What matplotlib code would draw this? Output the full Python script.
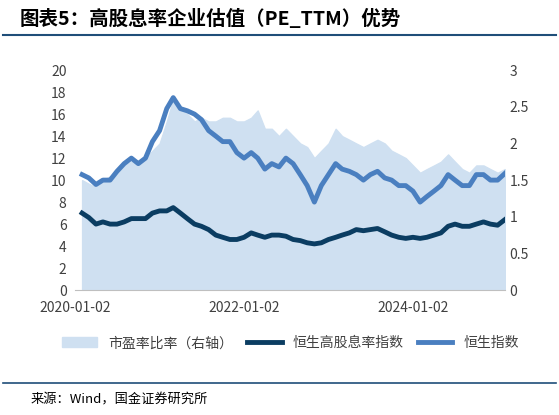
import matplotlib
matplotlib.use("Agg")
import matplotlib.pyplot as plt
import numpy as np
import pandas as pd

plt.rcParams['font.family'] = ['Noto Sans CJK SC', 'DejaVu Sans']

dates = pd.date_range("2020-01-02", periods=61, freq="MS") + pd.Timedelta(days=1)
hsi = [10.5, 10.2, 9.6, 10.0, 10.0, 10.8, 11.5, 12.0, 11.5, 12.0, 13.5, 14.5,
       16.5, 17.5, 16.5, 16.3, 16.0, 15.5, 14.5, 14.0, 13.5, 13.5, 12.5, 12.0,
       12.5, 12.0, 11.0, 11.5, 11.2, 12.0, 11.5, 10.5, 9.5, 8.0, 9.5, 10.5,
       11.5, 11.0, 10.8, 10.5, 10.0, 10.5, 10.8, 10.2, 10.0, 9.5, 9.5, 9.0,
       8.0, 8.5, 9.0, 9.5, 10.5, 10.0, 9.5, 9.5, 10.5, 10.5, 10.0, 10.0, 10.6]
hsi_hd = [7.0, 6.6, 6.0, 6.2, 6.0, 6.0, 6.2, 6.5, 6.5, 6.5, 7.0, 7.2,
          7.2, 7.5, 7.0, 6.5, 6.0, 5.8, 5.5, 5.0, 4.8, 4.6, 4.6, 4.8,
          5.2, 5.0, 4.8, 5.0, 5.0, 4.9, 4.6, 4.5, 4.3, 4.2, 4.3, 4.6,
          4.8, 5.0, 5.2, 5.5, 5.4, 5.5, 5.6, 5.3, 5.0, 4.8, 4.7, 4.8,
          4.7, 4.8, 5.0, 5.2, 5.8, 6.0, 5.8, 5.8, 6.0, 6.2, 6.0, 5.9, 6.4]
pe = [1.5, 1.45, 1.4, 1.5, 1.55, 1.6, 1.7, 1.75, 1.7, 1.8, 1.9, 2.0,
      2.3, 2.6, 2.5, 2.4, 2.3, 2.35, 2.3, 2.3, 2.35, 2.35, 2.3, 2.3,
      2.35, 2.45, 2.2, 2.2, 2.1, 2.2, 2.1, 2.0, 1.95, 1.8, 1.9, 2.0,
      2.2, 2.1, 2.05, 2.0, 1.95, 2.0, 2.05, 2.0, 1.9, 1.85, 1.8, 1.7,
      1.6, 1.65, 1.7, 1.75, 1.85, 1.75, 1.65, 1.6, 1.7, 1.7, 1.65, 1.6, 1.65]

fig = plt.figure(figsize=(5.59, 4.15), dpi=100)
ax = fig.add_axes([0.134, 0.301, 0.769, 0.53])
ax2 = ax.twinx()

ax2.fill_between(dates, pe, color="#cfe0f1", label="市盈率比率（右轴）", zorder=1)
ax.set_zorder(ax2.get_zorder() + 1)
ax.patch.set_visible(False)
ax.plot(dates, hsi_hd, color="#0b3d62", lw=3.5, label="恒生高股息率指数")
ax.plot(dates, hsi, color="#4a7fc0", lw=3.5, label="恒生指数")

ax.set_ylim(0, 20)
ax.set_yticks(range(0, 21, 2))
ax2.set_ylim(0, 3)
ax2.set_yticks(np.arange(0, 3.01, 0.5))
ax2.set_yticklabels(["0", "0.5", "1", "1.5", "2", "2.5", "3"])
ax.set_xlim(dates[0], dates[-1])
ticks = pd.to_datetime(["2020-01-02", "2022-01-02", "2024-01-02"])
ax.set_xticks(ticks)
ax.set_xticklabels([t.strftime("%Y-%m-%d") for t in ticks])
for a in (ax, ax2):
    for s in a.spines.values():
        s.set_visible(False)
    a.tick_params(length=0, labelsize=10, colors="#404040")
ax.tick_params(axis="x", pad=8)
ax.tick_params(axis="y", pad=6)
ax.spines["bottom"].set_visible(True)
ax.spines["bottom"].set_color("#bfbfbf")

h1, l1 = ax2.get_legend_handles_labels()
h2, l2 = ax.get_legend_handles_labels()
fig.legend(h1 + h2, l1 + l2, loc="center", bbox_to_anchor=(0.52, 0.173), ncol=3,
           frameon=False, fontsize=10, handlelength=2.5, columnspacing=1.0,
           labelcolor="#404040")

fig.text(0.035, 0.955, "图表5：高股息率企业估值（PE_TTM）优势", fontsize=14,
         fontweight="bold", style="italic", va="center")
fig.add_artist(plt.Line2D([0.005, 0.995], [0.915, 0.915], color="#1f4e79", lw=1.5))
fig.add_artist(plt.Line2D([0.005, 0.995], [0.077, 0.077], color="#1f4e79", lw=1.2))
fig.text(0.055, 0.035, "来源：Wind，国金证券研究所", fontsize=9.5, va="center")

fig.savefig("out.png", dpi=100)
